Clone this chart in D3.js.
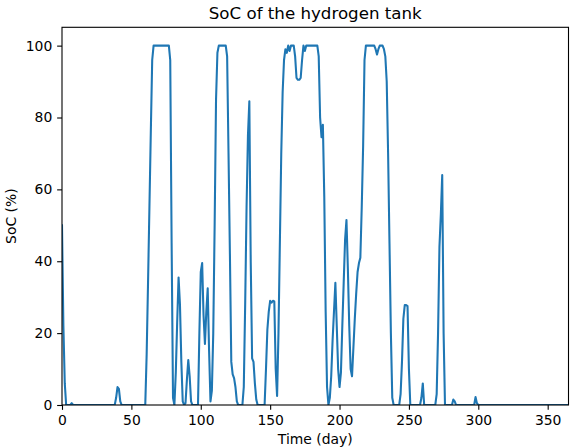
<!DOCTYPE html>
<html>
<head>
<meta charset="utf-8">
<script src="https://cdn.jsdelivr.net/npm/d3@7"></script>
<style>
  body { margin: 0; background: #fff; }
  text { font-family: "DejaVu Sans", sans-serif; fill: #000; }
</style>
</head>
<body>
<svg id="chart" width="570" height="448"></svg>
<script>
const title = "SoC of the hydrogen tank";
const xLabel = "Time (day)";
const yLabel = "SoC (%)";
const xTicks = [0, 50, 100, 150, 200, 250, 300, 350];
const yTicks = [0, 20, 40, 60, 80, 100];

const days = [0,1,2,3,6,7,8,38,39,40,41,42,43,60,61,62,63,64,65,66,77,78,79,80,81,82,83,84,85,86,87,88,89,90,91,92,93,94,98,99,100,101,102,103,104,105,106,107,108,109,110,111,112,113,118,119,120,121,122,123,124,125,126,127,130,131,132,133,134,135,136,137,138,139,140,141,146,147,148,149,150,151,152,153,154,155,156,157,158,159,160,161,162,163,164,165,166,167,168,169,170,171,172,173,174,175,176,184,185,186,187,188,189,190,191,192,193,194,195,196,197,198,199,200,201,202,203,204,205,206,207,208,209,210,211,212,213,214,215,216,217,218,219,225,226,227,228,229,231,232,233,234,235,236,237,238,239,243,244,245,246,247,248,249,250,251,258,259,260,261,269,270,271,272,273,274,275,276,281,282,283,284,297,298,299,300,365];
const soc = [50,22,6,0,0,0.5,0,0,2,5,4.5,1,0,0,14,34,55,76,96,100,100,96,45,2,0,9,23,35.5,28,12,1,0,0.5,7,12.5,8,1,0,0,20,37,39.5,25,17,26,32.5,15,1,4,20,50,85,98,100,100,97,70,42,12,8.5,7.5,5,1,0,0,5,28,55,75,84.5,40,13,12,6,1.5,0,0,10,21,26,29,28.5,29,28.8,10,2.5,20,45,70,87,96,99,98,100,98.5,100,100,100,97,91,90.5,90.5,91,96,100,98.5,100,100,97,80,74.5,78,58,26,5,0,2,8,18,26,34,22,10,5,9,22,34,46,51.5,38,22,10,8,16,24,31,37,39.5,41,55,72,96,100,100,99,97.5,99,100,100,99,97,90,70,45,20,2,0,0,3,12,24,27.8,27.8,27.5,10,0,0,2,6,0,0,3,20,44,53,64,20,0,0,1.5,1,0,0,2.2,0.5,0,0];

const data = days.map((d, i) => ({ x: d, y: soc[i] }));

const W = 570, H = 448;
const m = { left: 62, top: 27.3, right: 1.5, bottom: 43 };
const svg = d3.select("#chart");

const x = d3.scaleLinear().domain([0, 365]).range([m.left, W - m.right]);
const y = d3.scaleLinear().domain([0, 105.1]).range([H - m.bottom, m.top]);

// line (clipped to axes)
svg.append("clipPath").attr("id", "clip")
  .append("rect")
  .attr("x", m.left).attr("y", m.top)
  .attr("width", W - m.right - m.left).attr("height", H - m.bottom - m.top);

svg.append("path")
  .datum(data)
  .attr("clip-path", "url(#clip)")
  .attr("fill", "none")
  .attr("stroke", "#1f77b4")
  .attr("stroke-width", 2.08)
  .attr("stroke-linejoin", "round")
  .attr("stroke-linecap", "square")
  .attr("d", d3.line().x(d => x(d.x)).y(d => y(d.y)));

// axes
const fs = 13.9;
const xAxis = svg.append("g")
  .attr("transform", `translate(0,${H - m.bottom})`)
  .call(d3.axisBottom(x).tickValues(xTicks).tickFormat(d3.format("d")).tickSizeOuter(0).tickSize(4.86).tickPadding(4.86));
const yAxis = svg.append("g")
  .attr("transform", `translate(${m.left},0)`)
  .call(d3.axisLeft(y).tickValues(yTicks).tickFormat(d3.format("d")).tickSizeOuter(0).tickSize(4.86).tickPadding(4.86));

[xAxis, yAxis].forEach(g => {
  g.select(".domain").remove();
  g.selectAll(".tick line").attr("stroke", "#000").attr("stroke-width", 1.1);
  g.selectAll(".tick text").attr("font-size", fs).attr("font-family", "DejaVu Sans").attr("fill", "#000");
});

// frame
svg.append("rect")
  .attr("x", m.left).attr("y", m.top)
  .attr("width", W - m.right - m.left).attr("height", H - m.bottom - m.top)
  .attr("fill", "none").attr("stroke", "#000").attr("stroke-width", 1.1);

// labels
svg.append("text")
  .attr("x", (m.left + W - m.right) / 2).attr("y", 19)
  .attr("text-anchor", "middle").attr("font-size", 16.67)
  .text(title);

svg.append("text")
  .attr("x", (m.left + W - m.right) / 2).attr("y", 444)
  .attr("text-anchor", "middle").attr("font-size", fs)
  .text(xLabel);

svg.append("text")
  .attr("transform", `translate(16,${(m.top + H - m.bottom) / 2}) rotate(-90)`)
  .attr("text-anchor", "middle").attr("font-size", fs)
  .text(yLabel);
</script>
</body>
</html>
